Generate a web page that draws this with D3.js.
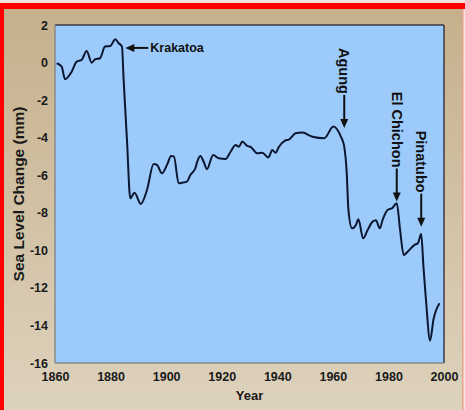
<!DOCTYPE html>
<html><head><meta charset="utf-8">
<script src="https://cdn.jsdelivr.net/npm/d3@7/dist/d3.min.js"></script>
<style>html,body{margin:0;padding:0;background:#fff;}svg{display:block;}</style>
</head><body>
<script>
const years = [1860.6,1862.4,1863.6,1866,1867.8,1869.6,1871.4,1873.2,1874.4,1876.2,1878,1879.9,1881.7,1882.9,1884.1,1884.7,1885.9,1887.1,1888.6,1890.9,1893.1,1895.5,1896.7,1898.5,1900.3,1901.8,1902.8,1904.5,1905.7,1907.5,1908.7,1910.5,1911.2,1912.3,1913.5,1914.7,1916.9,1919,1921.4,1923.2,1925,1926.2,1927.4,1929.2,1930.5,1932.8,1934.6,1936.8,1938.2,1939.4,1940.6,1942.8,1944.2,1946.6,1949,1952.7,1956.9,1960.2,1962.9,1964,1965,1965.6,1966.9,1968.3,1969.2,1970.9,1972.5,1974.3,1975.5,1976.9,1977.9,1979.7,1981.3,1983,1984.2,1985.5,1986.9,1989.4,1990.6,1991.8,1992.6,1993.6,1995,1996.2,1998.4];
const seaLevel = [-0.04,-0.22,-0.89,-0.49,0.05,0.14,0.62,-0.01,0.17,0.23,0.85,0.88,1.24,1.03,0.85,-0.93,-4.12,-7.23,-6.93,-7.53,-6.79,-5.4,-5.45,-5.9,-5.45,-4.98,-5.0,-6.43,-6.4,-6.34,-5.99,-5.63,-5.28,-4.98,-5.28,-5.68,-4.92,-5.1,-5.13,-4.75,-4.39,-4.48,-4.21,-4.44,-4.5,-4.83,-4.8,-5.05,-4.66,-4.8,-4.48,-4.16,-4.1,-3.77,-3.73,-3.95,-4.03,-3.41,-3.95,-4.4,-5.9,-7.85,-8.83,-8.65,-8.35,-9.36,-8.92,-8.47,-8.4,-8.83,-8.38,-7.85,-7.76,-7.49,-8.92,-10.25,-10.07,-9.71,-9.62,-9.13,-10.87,-12.82,-14.81,-13.7,-12.82];
const xTicks = [1860,1880,1900,1920,1940,1960,1980,2000];
const yTicks = [2,0,-2,-4,-6,-8,-10,-12,-14,-16];
const eventNames = ["Krakatoa","Agung","El Chichon","Pinatubo"];
const eventYears = [1885.3,1964.1,1983.0,1991.8];
const eventValues = [0.78,-3.48,-7.4,-8.74];

const W=465,H=410;
const svg=d3.select("body").append("svg").attr("width",W).attr("height",H);
const defs=svg.append("defs");
const g=defs.append("linearGradient").attr("id","bg").attr("x1",0).attr("y1",0).attr("x2",0).attr("y2",1);
g.append("stop").attr("offset","0%").attr("stop-color","#c6b08c");
g.append("stop").attr("offset","100%").attr("stop-color","#ddd2bd");

svg.append("rect").attr("x",0).attr("y",0).attr("width",W).attr("height",H).attr("fill","#f6e4e0");
svg.append("rect").attr("x",4).attr("y",9).attr("width",458).attr("height",H-9).attr("fill","url(#bg)");
svg.append("rect").attr("x",0).attr("y",3).attr("width",W).attr("height",6).attr("fill","#ff0000");
svg.append("rect").attr("x",0).attr("y",3).attr("width",4).attr("height",H-3).attr("fill","#ff0000");
svg.append("rect").attr("x",462).attr("y",9).attr("width",1.5).attr("height",H-9).attr("fill","#e9a08c");

const x=d3.scaleLinear().domain([1860,2000]).range([55,444]);
const y=d3.scaleLinear().domain([-16,2]).range([363,25]);

svg.append("rect").attr("x",x(1860)).attr("y",y(2)).attr("width",x(2000)-x(1860)).attr("height",y(-16)-y(2)).attr("fill","#9ccbfb");
svg.append("line").attr("x1",x(1860)).attr("x2",x(2000)).attr("y1",y(2)).attr("y2",y(2)).attr("stroke","#3a3a40").attr("stroke-width",1.5);
svg.append("line").attr("x1",x(2000)).attr("x2",x(2000)).attr("y1",y(2)).attr("y2",y(-16)).attr("stroke","#3a3a40").attr("stroke-width",1.5);
svg.append("line").attr("x1",x(1860)).attr("x2",x(1860)).attr("y1",y(2)).attr("y2",y(-16)).attr("stroke","#8a8a8a").attr("stroke-width",1.5);
svg.append("line").attr("x1",x(1860)).attr("x2",x(2000)).attr("y1",y(-16)).attr("y2",y(-16)).attr("stroke","#8a8a8a").attr("stroke-width",1.5);

const font="'Liberation Sans', Arial, sans-serif";
const xa=svg.append("g").attr("transform",`translate(0,${y(-16)})`).call(d3.axisBottom(x).tickValues(xTicks).tickSize(0).tickPadding(9).tickFormat(d=>String(d)));
xa.select(".domain").remove();
xa.selectAll("text").attr("font-family",font).attr("font-size",12.5).attr("font-weight","bold").attr("fill","#1a1a1a");
const ya=svg.append("g").attr("transform",`translate(${x(1860)},0)`).call(d3.axisLeft(y).tickValues(yTicks).tickSize(0).tickPadding(7).tickFormat(d=>String(d)));
ya.select(".domain").remove();
ya.selectAll("text").attr("font-family",font).attr("font-size",12.5).attr("font-weight","bold").attr("fill","#1a1a1a");

svg.append("text").attr("x",(x(1860)+x(2000))/2).attr("y",400).attr("text-anchor","middle").attr("font-family",font).attr("font-size",13).attr("font-weight","bold").attr("fill","#1a1a1a").text("Year");
svg.append("text").attr("transform",`translate(18,${(y(2)+y(-16))/2}) rotate(-90)`).attr("text-anchor","middle").attr("dominant-baseline","central").attr("font-family",font).attr("font-size",15.5).attr("font-weight","bold").attr("fill","#1a1a1a").text("Sea Level Change (mm)");

const data=years.map((yr,i)=>({yr,v:seaLevel[i]}));
svg.append("path").datum(data).attr("d",d3.line().x(d=>x(d.yr)).y(d=>y(d.v)).curve(d3.curveMonotoneX)).attr("fill","none").attr("stroke","#0b1630").attr("stroke-width",2).attr("stroke-linejoin","round");

function arrowHead(tx,ty,dir){
  let p;
  if(dir==="left") p=[[tx,ty],[tx+9,ty-4],[tx+9,ty+4]];
  else p=[[tx,ty],[tx-4,ty-9],[tx+4,ty-9]];
  svg.append("path").attr("d","M"+p.map(q=>q.join(",")).join("L")+"Z").attr("fill","#111");
}
eventNames.forEach((name,i)=>{
  const tx=x(eventYears[i]), ty=y(eventValues[i]);
  if(i===0){
    svg.append("line").attr("x1",tx+5).attr("x2",tx+23).attr("y1",ty).attr("y2",ty).attr("stroke","#111").attr("stroke-width",2);
    arrowHead(tx,ty,"left");
    svg.append("text").attr("x",tx+25).attr("y",ty).attr("dominant-baseline","central").attr("font-family",font).attr("font-size",12.5).attr("font-weight","bold").attr("fill","#111").text(name);
  } else {
    svg.append("line").attr("x1",tx).attr("x2",tx).attr("y1",ty-33).attr("y2",ty-5).attr("stroke","#111").attr("stroke-width",2);
    arrowHead(tx,ty,"down");
    svg.append("text").attr("transform",`translate(${tx},${ty-34}) rotate(90)`).attr("text-anchor","end").attr("dominant-baseline","central").attr("font-family",font).attr("font-size",14.5).attr("font-weight","bold").attr("fill","#111").text(name);
  }
});
</script>
</body></html>
